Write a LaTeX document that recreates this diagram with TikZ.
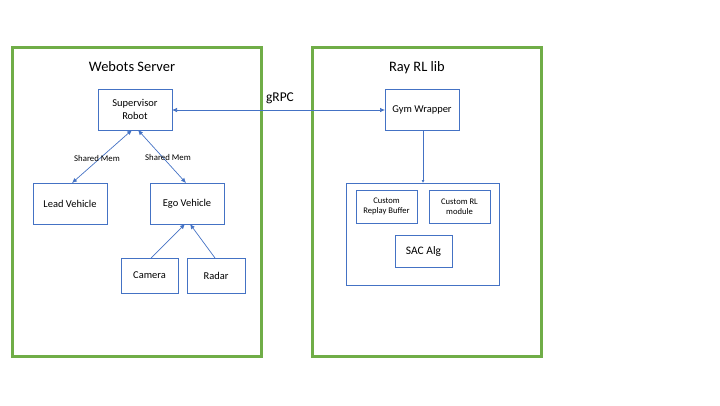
\documentclass[tikz,border=0pt]{standalone}
\usepackage{fontspec}
\setmainfont{Carlito}
\usetikzlibrary{arrows.meta}
\definecolor{grn}{HTML}{70AD47}
\definecolor{blu}{HTML}{4472C4}
\begin{document}
\begin{tikzpicture}[x=1bp,y=-1bp,
  frame/.style={draw=grn,line width=3bp},
  box/.style={draw=blu,line width=0.9bp},
  lbl/.style={font=\fontsize{10.5}{12.5}\selectfont,align=center,inner sep=0},
  small/.style={font=\fontsize{8.6}{10.5}\selectfont,align=center,inner sep=0},
  edgelbl/.style={font=\fontsize{8.8}{10}\selectfont,inner sep=0},
  ttl/.style={font=\fontsize{14.5}{16}\selectfont,inner sep=0},
  con/.style={draw=blu,line width=0.7bp,-{Latex[length=5bp,width=4.5bp]}},
  dcon/.style={draw=blu,line width=0.7bp,{Latex[length=5bp,width=4.5bp]}-{Latex[length=5bp,width=4.5bp]}}]
\useasboundingbox (0,0) rectangle (720,405);
% frames
\draw[frame] (12,47) rectangle (261,356);
\draw[frame] (312,47) rectangle (541,356);
\node[ttl] (t1) at (132,67) {Webots Server};
\node[ttl] (t2) at (417,68) {Ray RL lib};
% left boxes
\draw[box] (98,89) rectangle (172,130);
\node[lbl] (sup) at (135,109.5) {Supervisor\\Robot};
\draw[box] (33,183) rectangle (107,224);
\node[lbl] (lead) at (70,203.5) {Lead Vehicle};
\draw[box] (150,183) rectangle (224,224);
\node[lbl] (ego) at (187,203.5) {Ego Vehicle};
\draw[box] (121,258) rectangle (178,293);
\node[lbl] (cam) at (149.5,275.5) {Camera};
\draw[box] (187,258) rectangle (245,293);
\node[lbl] (rad) at (216,275.5) {Radar};
% right boxes
\draw[box] (385,89) rectangle (459,130);
\node[lbl] (gym) at (422,109.5) {Gym Wrapper};
\draw[box] (346,183) rectangle (499,285);
\coordinate (inner) at (423,183);
\draw[box] (356,190) rectangle (417,223);
\node[small] (crb) at (386.5,206.5) {Custom\\Replay Buffer};
\draw[box] (429,190) rectangle (490,223);
\node[small] (crl) at (459.5,206.5) {Custom RL\\module};
\draw[box] (395,235) rectangle (452,267);
\node[lbl,font=\fontsize{11.5}{13}\selectfont] (sac) at (423.5,251) {SAC Alg};
% anchor coordinates
\coordinate (supR) at (172,110);
\coordinate (gymL) at (385,110);
\coordinate (supB1) at (132,130);
\coordinate (supB2) at (138,130);
\coordinate (leadT) at (72,183);
\coordinate (egoT) at (186,183);
\coordinate (egoB1) at (185,224);
\coordinate (egoB2) at (190,224);
\coordinate (camT) at (151,258);
\coordinate (radT) at (215,258);
\coordinate (gymB) at (423,130);
% connectors
\draw[dcon] (supR) -- (gymL);
\node[font=\fontsize{13.5}{15}\selectfont,inner sep=0] (grpc) at (280,98) {gRPC};
\draw[dcon] (supB1) -- (leadT);
\draw[dcon] (supB2) -- (egoT);
\node[edgelbl] (sm1) at (97,158) {Shared Mem};
\node[edgelbl] (sm2) at (168,157) {Shared Mem};
\draw[con] (camT) -- (egoB1);
\draw[con] (radT) -- (egoB2);
\draw[draw=blu,line width=0.7bp,-{Latex[length=3bp,width=3bp]}] (gymB) -- (inner);
\end{tikzpicture}
\end{document}
